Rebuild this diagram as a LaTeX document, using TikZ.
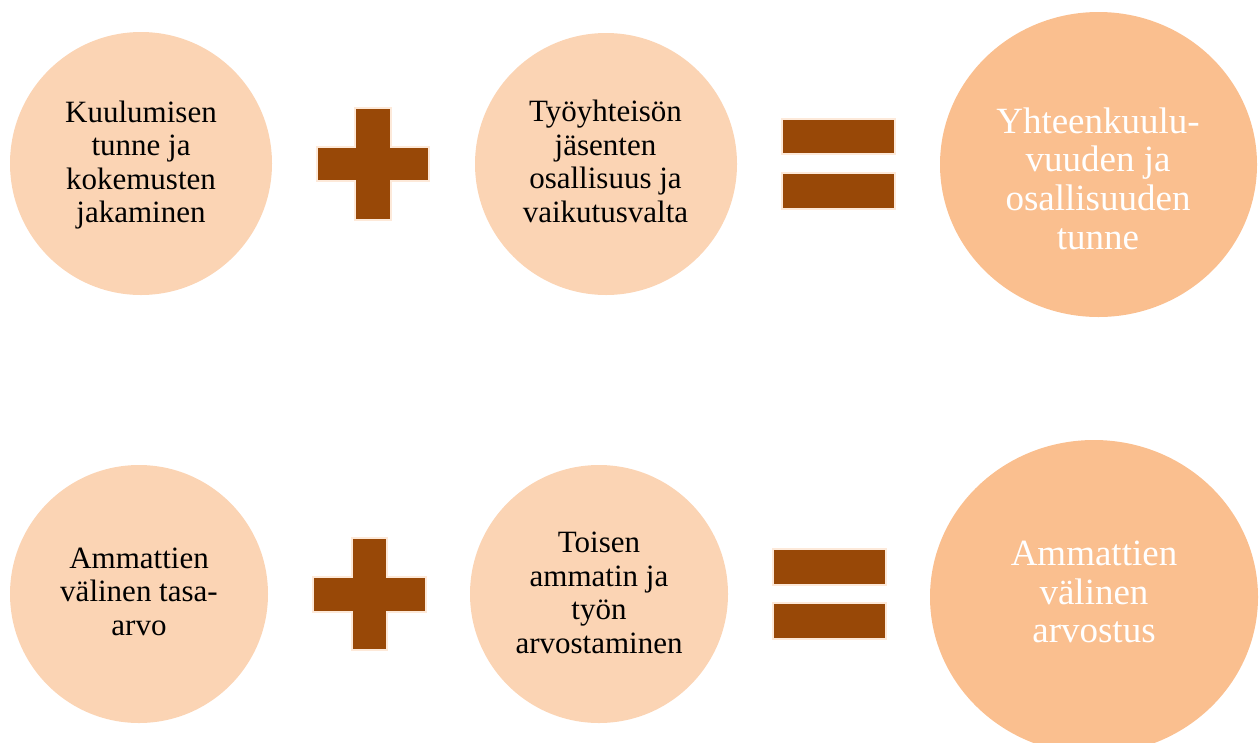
\documentclass[tikz,border=0pt]{standalone}
\usepackage{fontspec}
\setmainfont{Liberation Serif}
\usetikzlibrary{shapes.geometric}
\definecolor{peachlight}{HTML}{FBD4B4}
\definecolor{peachdark}{HTML}{FABF8F}
\definecolor{barbrown}{HTML}{984807}
\definecolor{barrim}{HTML}{FDE9D9}
\begin{document}
\begin{tikzpicture}[x=1pt,y=-1pt,
  soft/.style={ellipse, fill=peachlight, draw=none, inner sep=0pt},
  strong/.style={ellipse, fill=peachdark, draw=none, inner sep=0pt},
  blacktext/.style={align=center, inner sep=0pt, font=\fontsize{31}{33.5}\selectfont, text=black},
  whitetext/.style={align=center, inner sep=0pt, font=\fontsize{37}{38.7}\selectfont, text=white},
  bar/.style={fill=barbrown, draw=barrim, line width=1.5pt}]
\useasboundingbox (0,0) rectangle (1260,742);
% top row
\node[soft, minimum width=262pt, minimum height=263pt] (c1) at (141,163.5) {};
\node[blacktext] (t1) at (141,164.9) {Kuulumisen\\tunne ja\\kokemusten\\jakaminen};
\node[soft, minimum width=262pt, minimum height=262pt] (c2) at (606,164) {};
\node[blacktext] (t2) at (605.5,161.5) {Työyhteisön\\jäsenten\\osallisuus ja\\vaikutusvalta};
\node[strong, minimum width=317pt, minimum height=305pt] (c3) at (1098.5,164.5) {};
\node[whitetext] (t3) at (1098,178.6) {Yhteenkuulu-\\vuuden ja\\osallisuuden\\tunne};
\path[bar] (355,108) -- (391,108) -- (391,147) -- (429,147) -- (429,181) -- (391,181) -- (391,220) -- (355,220) -- (355,181) -- (317,181) -- (317,147) -- (355,147) -- cycle;
\path[bar] (782,119) rectangle (895,154);
\path[bar] (782,173) rectangle (895,209);
% bottom row
\node[soft, minimum width=258pt, minimum height=258pt] (c4) at (139,594) {};
\node[blacktext] (t4) at (139,591.8) {Ammattien\\välinen tasa-\\arvo};
\node[soft, minimum width=258pt, minimum height=258pt] (c5) at (599,594) {};
\node[blacktext] (t5) at (599,592.8) {Toisen\\ammatin ja\\työn\\arvostaminen};
\node[strong, minimum width=328pt, minimum height=314pt] (c6) at (1094,597) {};
\node[whitetext] (t6) at (1094,592.2) {Ammattien\\välinen\\arvostus};
\path[bar] (352,538) -- (387,538) -- (387,577) -- (426,577) -- (426,612) -- (387,612) -- (387,650) -- (352,650) -- (352,612) -- (313,612) -- (313,577) -- (352,577) -- cycle;
\path[bar] (773,549) rectangle (886,585);
\path[bar] (773,603) rectangle (886,639);
\end{tikzpicture}
\end{document}
